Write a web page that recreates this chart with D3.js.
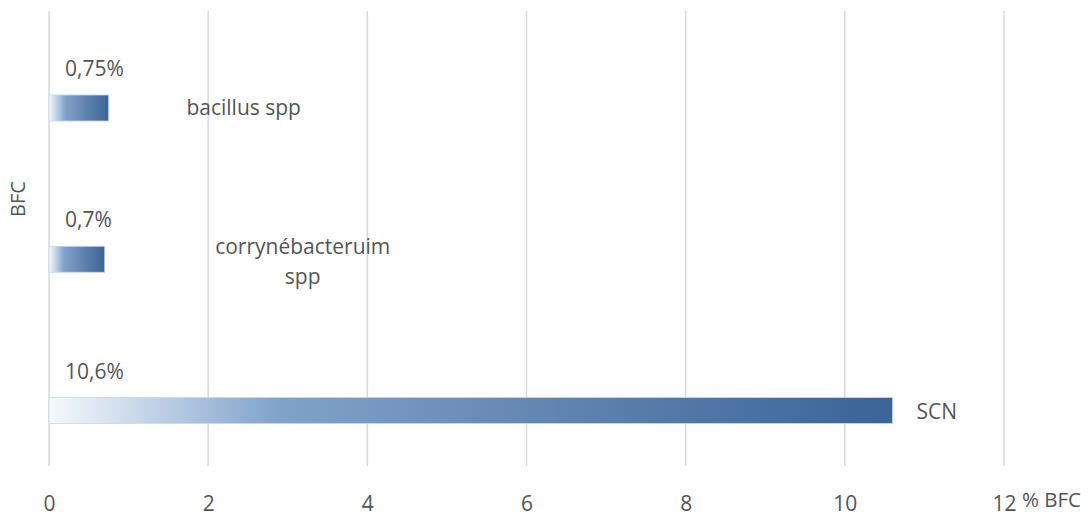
<!DOCTYPE html>
<html><head><meta charset="utf-8">
<script src="https://cdn.jsdelivr.net/npm/d3@7"></script>
<style>body{margin:0;background:#fff}svg{display:block}</style>
</head><body><svg id="c" width="1088" height="517"></svg>
<script>
const categories = ["bacillus spp", "corrynébacteruim spp", "SCN"];
const values = [0.75, 0.7, 10.6];
const valueLabels = ["0,75%", "0,7%", "10,6%"];
const categoryLines = [["bacillus spp"], ["corrynébacteruim", "spp"], ["SCN"]];
const xTicks = [0, 2, 4, 6, 8, 10, 12];
const xTitle = "% BFC";
const yTitle = "BFC";

const svg = d3.select("#c");
const font = "'Open Sans', sans-serif";
const txt = "#555555";
const fs = 21;
const x = d3.scaleLinear().domain([0, 12]).range([49, 1004]);
const y = d3.scalePoint().domain(categories).range([108, 410.5]);
const gridTop = 11, gridBottom = 466, barH = 26;

const defs = svg.append("defs");
const g = defs.append("linearGradient").attr("id", "grad")
  .attr("x1", 0).attr("x2", 1).attr("y1", 0).attr("y2", 0);
[[0, "#f6f9fc"], [0.27, "#80a3cc"], [0.5, "#6c8db7"], [0.75, "#5178a7"], [1, "#3b6497"]]
  .forEach(([o, c]) => g.append("stop").attr("offset", o).attr("stop-color", c));

// gridlines
svg.append("g").selectAll("line").data(xTicks).join("line")
  .attr("x1", d => x(d)).attr("x2", d => x(d))
  .attr("y1", gridTop).attr("y2", gridBottom)
  .attr("stroke", "#d9d9d9").attr("stroke-width", 1.5);

// x axis tick labels
const xAxis = d3.axisBottom(x).tickValues(xTicks).tickSize(0).tickPadding(0).tickFormat(d3.format("d"));
const ax = svg.append("g").attr("transform", `translate(0,${gridBottom})`).call(xAxis);
ax.select(".domain").remove();
ax.selectAll("text").attr("y", 45).attr("dy", null)
  .attr("font-family", font).attr("font-size", fs).attr("fill", txt);

svg.append("text").attr("x", 1022).attr("y", 507)
  .attr("font-family", font).attr("font-size", 20.5).attr("fill", txt).text(xTitle);

svg.append("text").attr("transform", "translate(25,199) rotate(-90)")
  .attr("text-anchor", "middle").attr("font-family", font).attr("font-size", 20)
  .attr("fill", txt).text(yTitle);

// bars
svg.append("g").selectAll("rect").data(categories).join("rect")
  .attr("x", x(0)).attr("y", d => y(d) - barH / 2)
  .attr("width", (d, i) => x(values[i]) - x(0)).attr("height", barH)
  .attr("fill", "url(#grad)").attr("stroke", "#c9d7e8").attr("stroke-width", 0.8);

// value labels
svg.append("g").selectAll("text").data(categories).join("text")
  .attr("x", x(0) + 16).attr("y", d => y(d) - 32)
  .attr("font-family", font).attr("font-size", fs).attr("fill", txt)
  .text((d, i) => valueLabels[i]);

// category labels (manually offset, as in original)
const catDx = [135, 198, 24];
const catAnchor = ["middle", "middle", "start"];
const catDy = [7, -5, 8];
categories.forEach((c, i) => {
  const t = svg.append("text")
    .attr("x", x(values[i]) + catDx[i]).attr("y", y(c) + catDy[i])
    .attr("text-anchor", catAnchor[i])
    .attr("font-family", font).attr("font-size", fs).attr("fill", txt);
  categoryLines[i].forEach((ln, j) => {
    t.append("tspan").attr("x", x(values[i]) + catDx[i]).attr("dy", j === 0 ? 0 : 30).text(ln);
  });
});
</script></body></html>
